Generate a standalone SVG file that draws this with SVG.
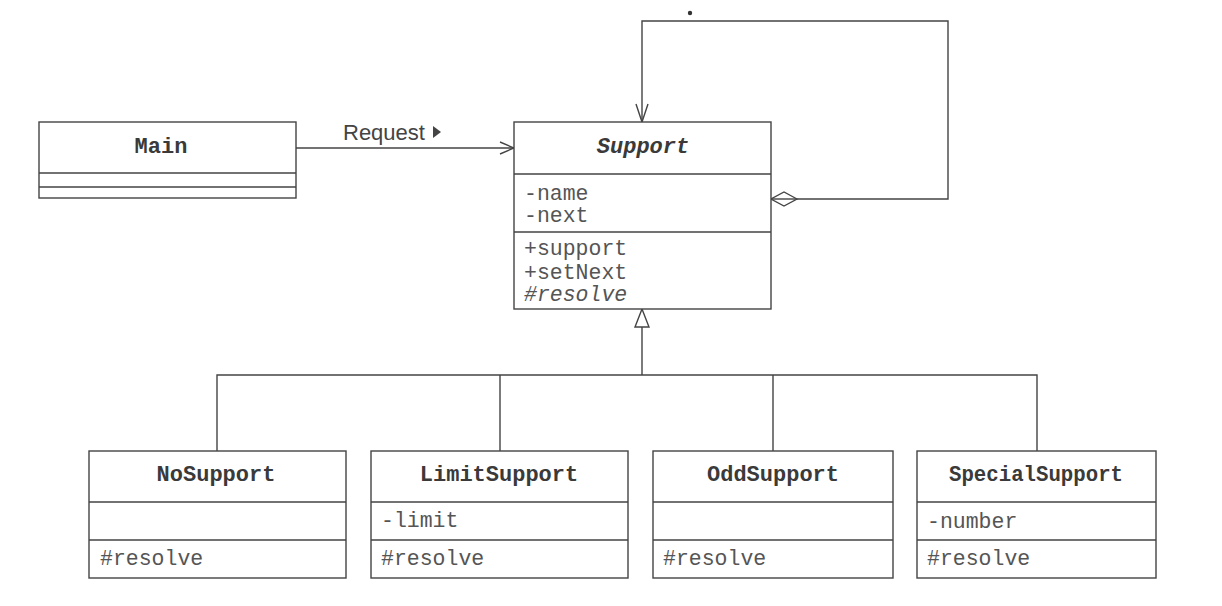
<svg xmlns="http://www.w3.org/2000/svg" width="1222" height="606" viewBox="0 0 1222 606">
<defs>
<style>
.box{fill:#fff;stroke:#444;stroke-width:1.4}
.div{stroke:#444;stroke-width:1.4;fill:none}
.ln{stroke:#444;stroke-width:1.4;fill:none}
.title{font-family:"Liberation Mono",monospace;font-weight:bold;font-size:22px;fill:#3a3a3a;text-anchor:middle}
.mem{font-family:"Liberation Mono",monospace;font-size:21.5px;fill:#555}
.lbl{font-family:"Liberation Sans",Arial,sans-serif;font-size:22px;fill:#444}
</style>
<marker id="open" viewBox="0 0 16 14" refX="15" refY="7" markerWidth="16" markerHeight="14" markerUnits="userSpaceOnUse" orient="auto">
<path d="M1,1 L15,7 L1,13" fill="none" stroke="#444" stroke-width="1.4"/>
</marker>
<marker id="openV" viewBox="0 0 20 14" refX="19" refY="7" markerWidth="20" markerHeight="14" markerUnits="userSpaceOnUse" orient="auto">
<path d="M1,1 L19,7 L1,13" fill="none" stroke="#444" stroke-width="1.4"/>
</marker>
<marker id="tri" viewBox="0 0 20 16" refX="19" refY="8" markerWidth="20" markerHeight="16" markerUnits="userSpaceOnUse" orient="auto">
<path d="M1,1 L19,8 L1,15 Z" fill="#fff" stroke="#444" stroke-width="1.4"/>
</marker>
<marker id="dia" viewBox="0 0 28 16" refX="1" refY="8" markerWidth="28" markerHeight="16" markerUnits="userSpaceOnUse" orient="auto">
<path d="M1,8 L14,1 L27,8 L14,15 Z" fill="#fff" stroke="#444" stroke-width="1.4"/>
</marker>
</defs>
<rect width="1222" height="606" fill="#fff"/>

<g id="connectors">
<path class="ln" d="M296,148 H514" marker-end="url(#open)"/>
<path class="ln" d="M797,199 H948 V21 H642 V122" marker-end="url(#openV)"/>
<path class="ln" d="M771,199 H797" />
<path class="ln" d="M797,199 L784,192 L771,199 L784,206 Z" fill="#fff"/>
<circle cx="690" cy="13" r="2.2" fill="#333"/>
<path class="ln" d="M642,375 V309" marker-end="url(#tri)"/>
<path class="ln" d="M217,451 V375 H1037 V451 M500,375 V451 M773,375 V451"/>
</g>

<g id="label-request">
<text class="lbl" x="343" y="140">Request</text>
<path d="M433,126 L441,132 L433,138 Z" fill="#444"/>
</g>

<g id="Main">
<rect class="box" x="39" y="122" width="257" height="76"/>
<path class="div" d="M39,173 H296 M39,187 H296"/>
<text class="title" x="161" y="153">Main</text>
</g>

<g id="Support">
<rect class="box" x="514" y="122" width="257" height="187"/>
<path class="div" d="M514,174 H771 M514,232 H771"/>
<text class="title" x="643" y="153" font-style="italic">Support</text>
<text class="mem" x="524" y="200">-name</text>
<text class="mem" x="524" y="222">-next</text>
<text class="mem" x="524" y="255">+support</text>
<text class="mem" x="524" y="279">+setNext</text>
<text class="mem" x="524" y="301" font-style="italic" fill="#444">#resolve</text>
</g>

<g id="NoSupport">
<rect class="box" x="89" y="451" width="257" height="127"/>
<path class="div" d="M89,502 H346 M89,540 H346"/>
<text class="title" x="216" y="481">NoSupport</text>
<text class="mem" x="100" y="565">#resolve</text>
</g>

<g id="LimitSupport">
<rect class="box" x="371" y="451" width="257" height="127"/>
<path class="div" d="M371,502 H628 M371,540 H628"/>
<text class="title" x="499" y="481">LimitSupport</text>
<text class="mem" x="381" y="527">-limit</text>
<text class="mem" x="381" y="565">#resolve</text>
</g>

<g id="OddSupport">
<rect class="box" x="653" y="451" width="240" height="127"/>
<path class="div" d="M653,502 H893 M653,540 H893"/>
<text class="title" x="773" y="481">OddSupport</text>
<text class="mem" x="663" y="565">#resolve</text>
</g>

<g id="SpecialSupport">
<rect class="box" x="917" y="451" width="239" height="127"/>
<path class="div" d="M917,502 H1156 M917,540 H1156"/>
<text class="title" x="1036" y="481" textLength="174" lengthAdjust="spacingAndGlyphs">SpecialSupport</text>
<text class="mem" x="927" y="528">-number</text>
<text class="mem" x="927" y="565">#resolve</text>
</g>
</svg>
